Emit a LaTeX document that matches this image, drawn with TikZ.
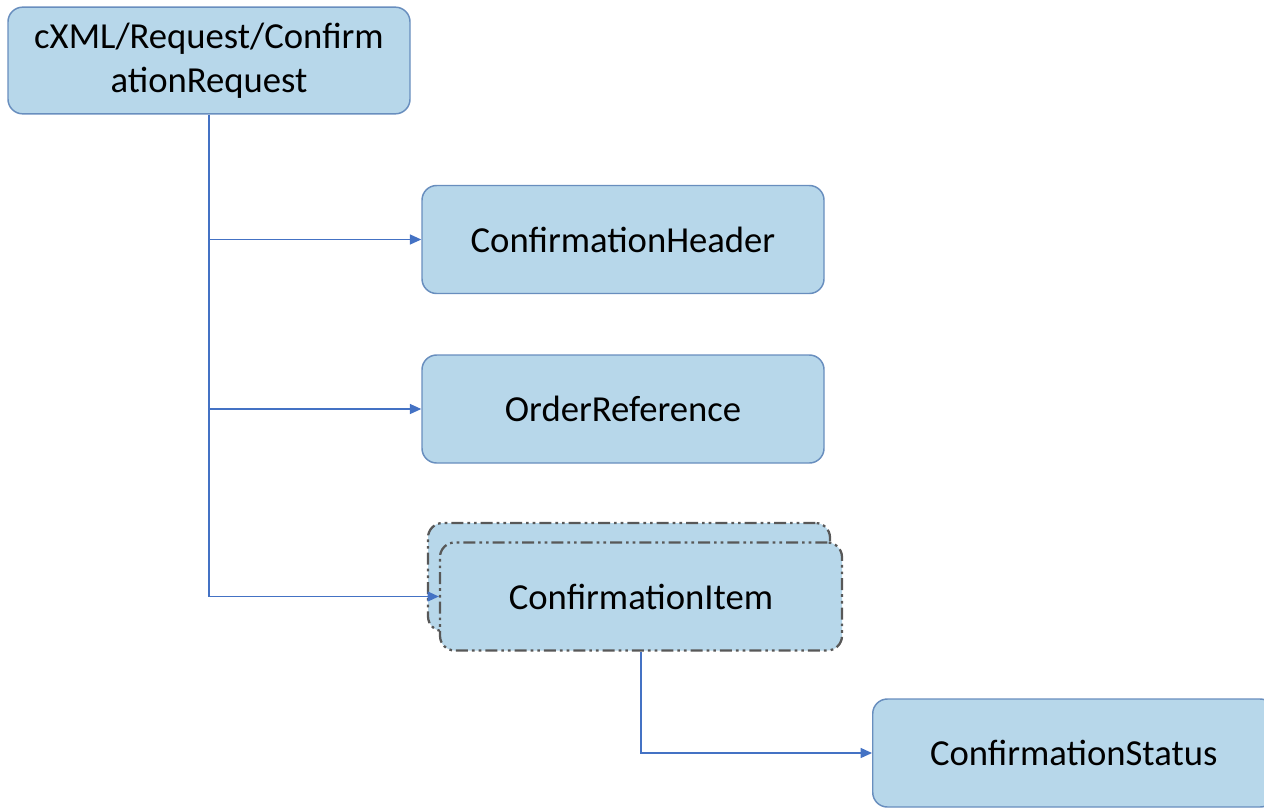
\documentclass[tikz,border=0pt]{standalone}
\usepackage{fontspec}
\setmainfont{Carlito}
\usetikzlibrary{arrows.meta}

\definecolor{boxfill}{RGB}{183,215,234}
\definecolor{boxline}{RGB}{104,142,190}
\definecolor{linkblue}{RGB}{68,114,196}
\definecolor{dashgrey}{RGB}{88,88,88}

\tikzset{every picture/.style={line width=0.75pt}}
\tikzset{
  elembox/.style={draw=boxline, fill=boxfill, line width=1.1pt, rounded corners=11pt,
    minimum width=301.5pt, minimum height=81pt, inner sep=0.75pt, align=center,
    font=\fontsize{27.5}{33}\selectfont},
  multibox/.style={elembox, draw=dashgrey, line width=1.7pt,
    dash pattern={on 9pt off 3pt on 2pt off 3pt on 2pt off 3pt}},
  link/.style={draw=linkblue, line width=1pt, -{Triangle[length=8.5pt,width=7.5pt]}}
}

\begin{document}
\begin{tikzpicture}[x=0.75pt,y=0.75pt,yscale=-1,xscale=1]
\useasboundingbox (0,0) rectangle (1264,807);

% Element boxes
\node [elembox, minimum height=80pt] (root) at (209,60.5) {cXML/Request/Confirm\\ationRequest};
\node [elembox] (header) at (623,239.5) {ConfirmationHeader};
\node [elembox] (orderref) at (623,409) {OrderReference};
\node [multibox] (itemback) at (629,577) {};
\node [multibox] (item) at (641,596.5) {ConfirmationItem};
\node [elembox, anchor=west] (status) at (872,753) {ConfirmationStatus};

% Connectors
\draw [link] (root.south |- header.west) -- (header.west);
\draw [link] (root.south |- orderref.west) -- (orderref.west);
\draw [link] (root.south) |- (item.west);
\draw [link] (item.south) |- (status.west);

\end{tikzpicture}
\end{document}
